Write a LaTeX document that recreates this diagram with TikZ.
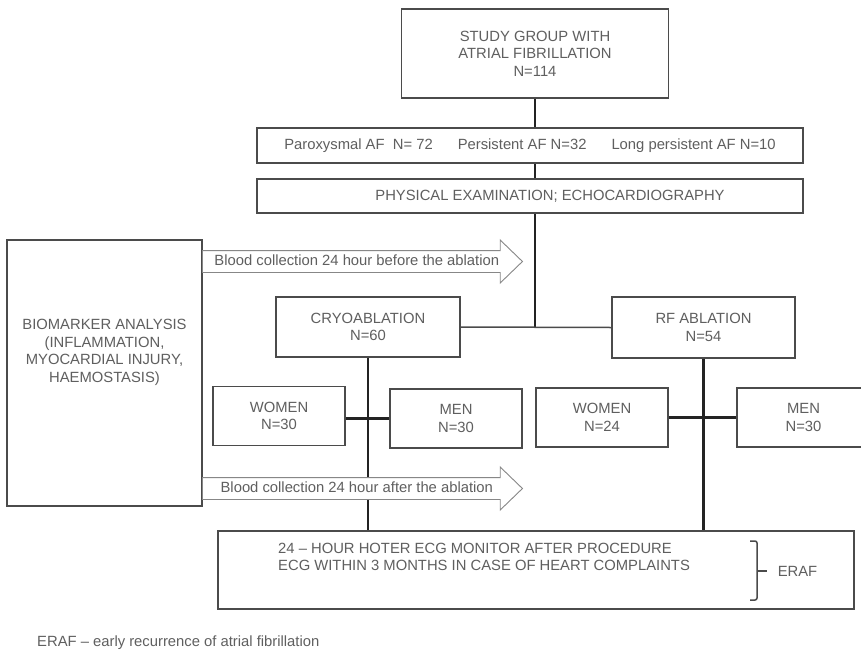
\documentclass[tikz,border=0pt]{standalone}
\usepackage{fontspec}
\setmainfont{Liberation Sans}
\usetikzlibrary{shapes.arrows}
\definecolor{boxline}{RGB}{75, 75, 75}
\definecolor{ink}{RGB}{95, 95, 95}
\definecolor{linkcol}{RGB}{35, 35, 35}
\definecolor{arrowline}{RGB}{135, 135, 135}

\begin{document}
\begin{tikzpicture}[x=1pt, y=-1pt,
    font=\fontsize{14.8}{17.6}\selectfont, text=ink,
    box/.style={draw=boxline, line width=1.5pt, fill=white, align=center, inner sep=0pt},
    link/.style={draw=linkcol, line width=2.4pt},
    thinlink/.style={draw=boxline, line width=1.5pt},
    bloodarrow/.style={single arrow, draw=arrowline, fill=white, line width=0.9pt,
      single arrow head extend=10.5pt, single arrow tip angle=88,
      minimum height=320pt, text height=10.5pt, text depth=2.5pt,
      inner ysep=4pt, inner xsep=0pt, anchor=tail}]
  \useasboundingbox (0,0) rectangle (861,653);

  \node[box, minimum width=267pt, minimum height=89pt] (study) at (535,53.5)
    {STUDY GROUP WITH\\ATRIAL FIBRILLATION\\N=114};
  \node[box, minimum width=546pt, minimum height=35pt] (types) at (530,145.5)
    {Paroxysmal AF\ \ N= 72\hspace{25pt}Persistent AF N=32\hspace{25pt}Long persistent AF N=10};
  \node[box, minimum width=546pt, minimum height=34pt] (exam) at (530,196)
    {\hspace*{40pt}PHYSICAL EXAMINATION; ECHOCARDIOGRAPHY};

  \node[box, minimum width=195pt, minimum height=266pt] (bio) at (104.5,373) {};
  \node[align=center] (biotext) at (104.5,352.5)
    {BIOMARKER ANALYSIS\\(INFLAMMATION,\\MYOCARDIAL INJURY,\\HAEMOSTASIS)};

  \node[box, minimum width=184pt, minimum height=60pt] (cryo) at (368,327) {CRYOABLATION\\N=60};
  \node[box, minimum width=183pt, minimum height=61pt] (rf) at (703.5,327.5) {RF ABLATION\\N=54};
  \node[box, minimum width=132pt, minimum height=59pt] (cwomen) at (279,416) {WOMEN\\N=30};
  \node[box, minimum width=132pt, minimum height=59pt] (cmen) at (456,418.5) {MEN\\N=30};
  \node[box, minimum width=132pt, minimum height=59pt] (rwomen) at (602,417.5) {WOMEN\\N=24};
  \node[box, minimum width=133pt, minimum height=59pt] (rmen) at (803.5,417.5) {MEN\\N=30};

  \node[box, minimum width=636pt, minimum height=78pt] (monitor) at (536,570) {};
  \node[anchor=west, align=left, inner sep=0pt] (monitortext) at (278,557)
    {24 – HOUR HOTER ECG MONITOR AFTER PROCEDURE\\ECG WITHIN 3 MONTHS IN CASE OF HEART COMPLAINTS};
  \node[inner sep=0pt] (eraf) at (797.5,571) {ERAF};
  \coordinate (bracetip) at (767,571);

  % connectors
  \draw[link] (study.south) -- (types.north -| study.south);
  \draw[link] (types.south -| study.south) -- (exam.north -| study.south);
  \coordinate (split) at (535,327.5);
  \draw[link] (exam.south -| split) -- (split);
  \draw[thinlink] (cryo.east) -- (rf.west);
  \draw[link] (cryo.south) -- (monitor.north -| cryo.south);
  \draw[link] (rf.south) -- (monitor.north -| rf.south);
  \draw[link] (cwomen.east |- cmen.west) -- (cmen.west);
  \draw[link] (rwomen.east) -- (rmen.west);

  % bracket for ERAF
  \draw[thinlink, rounded corners=2pt] (750,541) -- (757,541) -- (757,600) -- (750,600);
  \draw[thinlink] (757,571) -- (bracetip);

  % blood sampling arrows on top of the lines
  \node[bloodarrow] (before) at (202,261.5) {Blood collection 24 hour before the ablation};
  \node[bloodarrow] (after) at (202,488.5) {Blood collection 24 hour after the ablation};

  \node[anchor=west, inner sep=0pt] (note) at (37,643) {ERAF – early recurrence of atrial fibrillation};
\end{tikzpicture}
\end{document}
